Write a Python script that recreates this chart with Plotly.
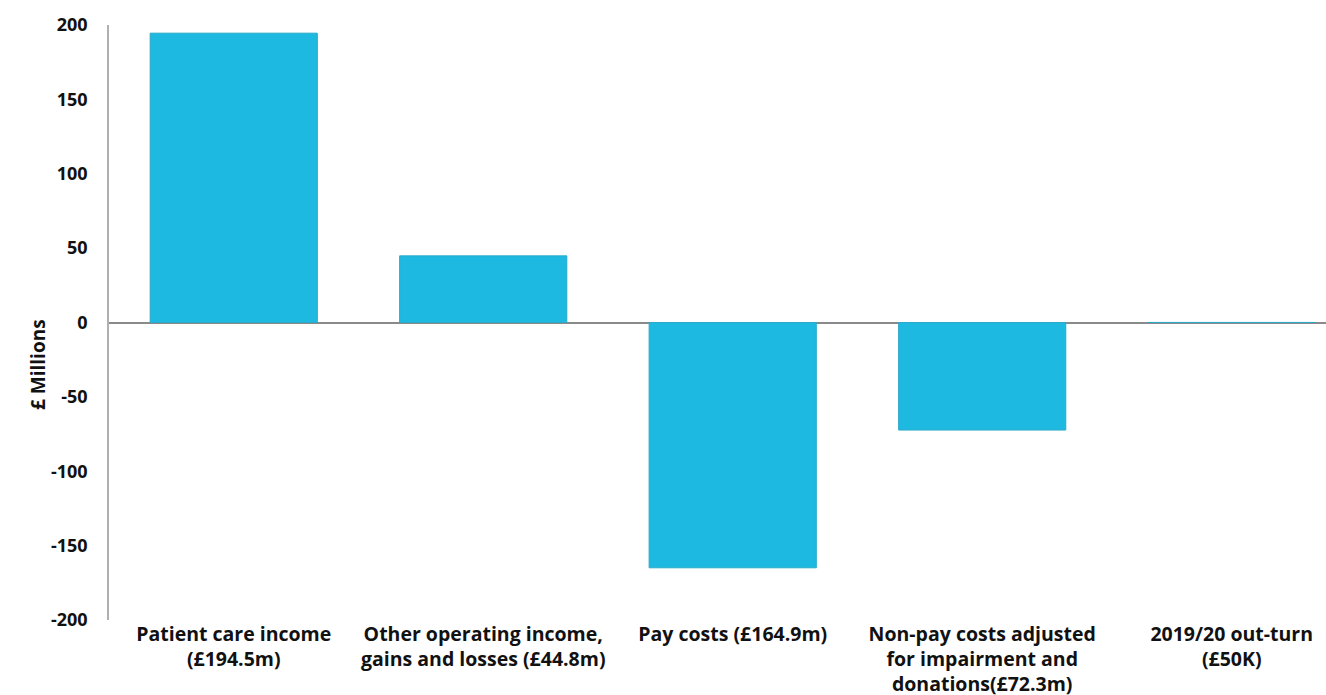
import plotly.graph_objects as go

categories = [
    "Patient care income<br>(£194.5m)",
    "Other operating income,<br>gains and losses (£44.8m)",
    "Pay costs (£164.9m)",
    "Non-pay costs adjusted<br>for impairment and<br>donations(£72.3m)",
    "2019/20 out-turn<br>(£50K)",
]
values = [194.5, 44.8, -164.9, -72.3, 0.05]
y_ticks = [200, 150, 100, 50, 0, -50, -100, -150, -200]
y_title = "£ Millions"

font_family = "Open Sans, Noto Sans, sans-serif"

fig = go.Figure(
    go.Bar(
        x=categories,
        y=values,
        width=0.67,
        marker=dict(color="#1EB9E0", line=dict(color="#2AA9C9", width=1)),
        hoverinfo="skip",
    )
)

fig.update_layout(
    width=1326,
    height=695,
    margin=dict(l=109, r=0, t=25, b=75),
    paper_bgcolor="white",
    plot_bgcolor="white",
    showlegend=False,
    font=dict(family=font_family, color="#111111"),
)

fig.update_xaxes(
    range=[-0.5, 4.378],
    automargin=False,
    showgrid=False,
    showline=False,
    ticks="",
    tickfont=dict(size=19.5, family=font_family, weight="bold"),
    tickangle=0,
)

fig.update_yaxes(
    range=[-200, 200],
    automargin=False,
    tickvals=y_ticks,
    ticktext=[str(v) for v in y_ticks],
    showgrid=False,
    zeroline=True,
    zerolinecolor="#8a8a8a",
    zerolinewidth=1.5,
    showline=True,
    linecolor="#b0b0b0",
    linewidth=1.5,
    ticks="",
    ticklabelstandoff=16,
    tickfont=dict(size=18, family=font_family, weight="bold"),
)

# Axis title placed as a rotated annotation, sitting a little below the centre
fig.add_annotation(
    text=y_title,
    xref="paper",
    yref="paper",
    x=-0.0583,
    y=0.4286,
    textangle=-90,
    showarrow=False,
    xanchor="center",
    yanchor="middle",
    font=dict(size=19, family=font_family, weight="bold", color="#111111"),
)

fig.write_html("out.html")
